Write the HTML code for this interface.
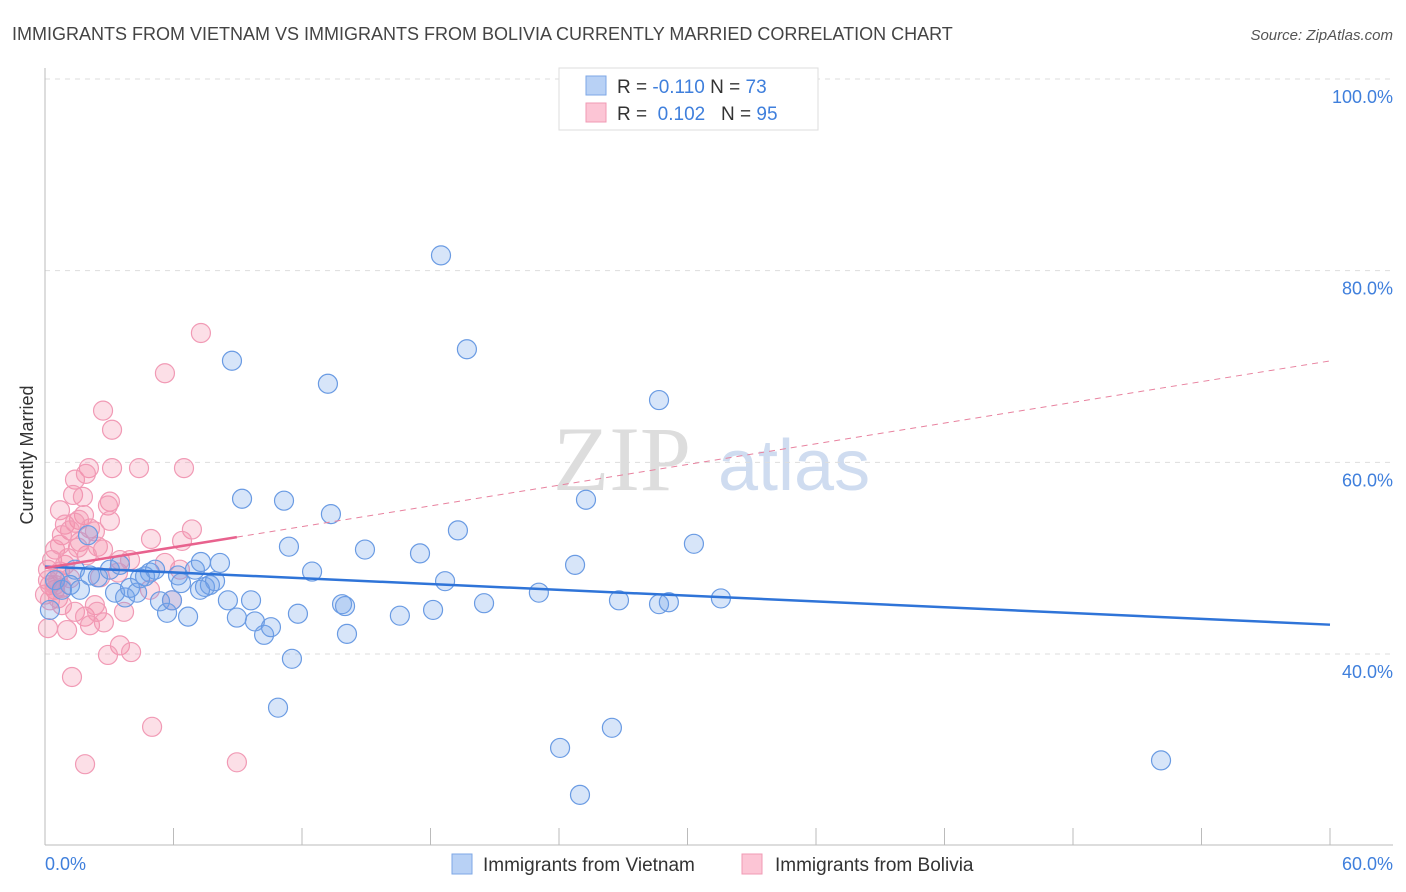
<!DOCTYPE html>
<html><head><meta charset="utf-8"><style>
body{margin:0;background:#fff;font-family:"Liberation Sans",sans-serif}
svg{display:block}
</style></head><body>
<svg id="chart" width="1406" height="892" xmlns="http://www.w3.org/2000/svg" font-family="Liberation Sans, sans-serif">
<text x="12" y="40" font-size="18" fill="#444">IMMIGRANTS FROM VIETNAM VS IMMIGRANTS FROM BOLIVIA CURRENTLY MARRIED CORRELATION CHART</text>
<text x="1393" y="40" font-size="15" fill="#555" font-style="italic" text-anchor="end">Source: ZipAtlas.com</text>
<text x="553" y="490" font-size="92" fill="#ddd" font-family="Liberation Serif, serif">ZIP</text>
<text x="718" y="490" font-size="72" fill="#cfdcf0">atlas</text>
<text transform="translate(33,455) rotate(-90)" font-size="18" fill="#333" text-anchor="middle">Currently Married</text>
<g id="grid"></g><g id="pts"></g><g id="trend"></g>
<g>
<rect x="559" y="68" width="259" height="62" fill="#fff" stroke="#ddd"/>
<rect x="586" y="76" width="20" height="19" fill="#b8d1f5" stroke="#7ea7e6"/>
<rect x="586" y="103" width="20" height="19" fill="#fcc5d5" stroke="#f09ab4"/>
<text x="617" y="93" font-size="19" fill="#333">R = <tspan fill="#3f7fdc">-0.110</tspan>   N = <tspan fill="#3f7fdc">73</tspan></text>
<text x="617" y="120" font-size="19" fill="#333" xml:space="preserve">R =  <tspan fill="#3f7fdc">0.102</tspan>   N = <tspan fill="#3f7fdc">95</tspan></text>
</g>
<g>
<rect x="452" y="854" width="20" height="20" fill="#b8d1f5" stroke="#7ea7e6"/>
<text x="483" y="871" font-size="19" fill="#333">Immigrants from Vietnam</text>
<rect x="742" y="854" width="20" height="20" fill="#fcc5d5" stroke="#f09ab4"/>
<text x="775" y="871" font-size="19" fill="#333">Immigrants from Bolivia</text>
</g>
</svg>
<script>
const vietnamX=[18.49,8.73,19.70,13.21,28.67,9.20,11.16,25.26,13.35,19.28,11.39,14.94,17.51,30.30,24.75,12.47,18.68,23.06,20.50,26.80,28.67,29.13,31.56,13.87,14.01,16.57,18.12,11.81,8.96,9.80,10.23,10.55,14.10,11.53,10.88,24.05,26.47,24.98,52.11,0.47,0.79,1.40,2.10,2.47,3.27,3.74,3.97,4.30,4.67,4.90,5.14,5.37,5.70,5.93,6.21,6.35,6.68,7.00,7.28,7.47,7.70,7.94,8.17,8.54,9.62,3.03,4.44,2.01,1.17,0.23,1.63,3.50,7.24];
const vietnamY=[81.6,70.6,71.8,68.2,66.5,56.2,56.0,56.1,54.6,52.9,51.2,50.9,50.5,51.5,49.3,48.6,47.6,46.4,45.3,45.6,45.2,45.4,45.8,45.2,45.0,44.0,44.6,44.2,43.8,43.4,42.0,42.8,42.1,39.5,34.4,30.2,32.3,25.3,28.9,47.7,46.7,48.8,48.2,48.0,46.4,45.9,46.9,46.4,48.1,48.5,48.8,45.5,44.3,45.6,48.2,47.4,43.9,48.8,49.6,47.0,47.2,47.6,49.5,45.6,45.6,48.8,47.9,52.4,47.2,44.6,46.7,49.3,46.7];
const boliviaX=[7.28,5.60,2.71,3.13,2.05,3.13,4.39,6.49,1.40,1.91,1.31,1.77,3.03,2.94,0.70,1.82,1.59,3.03,0.93,1.40,1.17,0.79,2.10,2.33,6.86,4.95,6.40,2.47,2.71,0.47,0.33,0.14,1.96,5.60,3.50,3.41,0.93,0.70,1.17,0.23,0.47,0,0.61,0.23,0.79,0.14,1.03,1.40,1.87,2.33,2.43,2.10,2.75,3.69,6.30,5.93,3.50,2.94,4.02,1.26,5.00,1.87,8.96,1.07,1.63,1.54,0.47,0.79,0.14,0.61,2.57,4.90,3.97,0.70];
const boliviaY=[73.5,69.3,65.4,63.4,59.4,59.4,59.4,59.4,58.2,58.8,56.6,56.4,55.9,55.5,55.0,54.5,54.0,53.9,53.5,53.7,52.9,52.4,53.1,52.8,53.0,52.0,51.8,51.2,50.9,50.9,49.8,48.8,50.3,49.5,49.8,48.5,49.3,48.6,47.9,47.2,46.7,46.2,45.8,45.6,45.1,42.7,42.5,44.4,43.9,45.1,44.4,43.0,43.3,44.4,48.8,45.6,40.9,39.9,40.2,37.6,32.4,28.5,28.7,50.0,51.7,51.1,47.2,46.9,47.7,47.7,48.0,46.7,49.8,51.4];
const yTicks=[100,80,60,40];
const yTickLabels=["100.0%","80.0%","60.0%","40.0%"];
const xTicks=[0,6,12,18,24,30,36,42,48,54,60];
const NS="http://www.w3.org/2000/svg";
const sx=v=>45+v/60*1285;
const sy=v=>654-(v-40)*9.583;
function mk(parent,tag,attrs){const e=document.createElementNS(NS,tag);for(const k in attrs)e.setAttribute(k,attrs[k]);parent.appendChild(e);return e;}
const grid=document.getElementById('grid');
yTicks.forEach((t,i)=>{
 const l=mk(grid,'line',{x1:45,x2:1393,y1:sy(t),y2:sy(t),stroke:'#ddd','stroke-dasharray':'5,5'});
 
 
 const tx=mk(grid,'text',{x:1393,y:sy(t)+24,'text-anchor':'end','font-size':18,fill:'#3f7fdc'});
 tx.textContent=yTickLabels[i];
 
 
});
const ax=mk(grid,'line',{x1:45,x2:1393,y1:845,y2:845,stroke:'#bbb'});


const ay=mk(grid,'line',{x1:45,x2:45,y1:68,y2:845,stroke:'#bbb'});


xTicks.forEach(t=>{
 const l=mk(grid,'line',{x1:sx(t),x2:sx(t),y1:828,y2:845,stroke:'#bbb'});
 
 
});
const xl0=mk(grid,'text',{x:45,y:870,'font-size':18,fill:'#3f7fdc'});xl0.textContent=xTicks[0].toFixed(1)+'%';


const xl1=mk(grid,'text',{x:1393,y:870,'font-size':18,fill:'#3f7fdc','text-anchor':'end'});xl1.textContent=xTicks[xTicks.length-1].toFixed(1)+'%';


const pts=document.getElementById('pts');
boliviaX.forEach((x,i)=>{
 const c=mk(pts,'circle',{cx:sx(x),cy:sy(boliviaY[i]),r:9.5,fill:'rgba(245,140,170,0.28)',stroke:'#f19ab5','stroke-width':1.2});
 
 
});
vietnamX.forEach((x,i)=>{
 const c=mk(pts,'circle',{cx:sx(x),cy:sy(vietnamY[i]),r:9.5,fill:'rgba(110,160,235,0.28)',stroke:'#6a9be3','stroke-width':1.2});
 
 
});
function reg(X,Y){const n=X.length;let mx=0,my=0;X.forEach((v,i)=>{mx+=v;my+=Y[i]});mx/=n;my/=n;let a=0,b=0;X.forEach((v,i)=>{a+=(v-mx)*(Y[i]-my);b+=(v-mx)*(v-mx)});const s=a/b;return [s,my-s*mx];}
const tr=document.getElementById('trend');
const [bs,bi]=reg(vietnamX,vietnamY);
const bl=mk(tr,'line',{x1:sx(0),y1:sy(bi),x2:sx(60),y2:sy(bi+bs*60),stroke:'#2f74d8','stroke-width':2.5});


const [ps,pi]=reg(boliviaX,boliviaY);
const xmax=Math.max(...boliviaX);
const pl=mk(tr,'line',{x1:sx(0),y1:sy(pi),x2:sx(xmax),y2:sy(pi+ps*xmax),stroke:'#e8628e','stroke-width':2.5});


const pd=mk(tr,'line',{x1:sx(xmax),y1:sy(pi+ps*xmax),x2:sx(60),y2:sy(pi+ps*60),stroke:'#e8829f','stroke-width':1,'stroke-dasharray':'6,5'});


</script>
</body></html>
